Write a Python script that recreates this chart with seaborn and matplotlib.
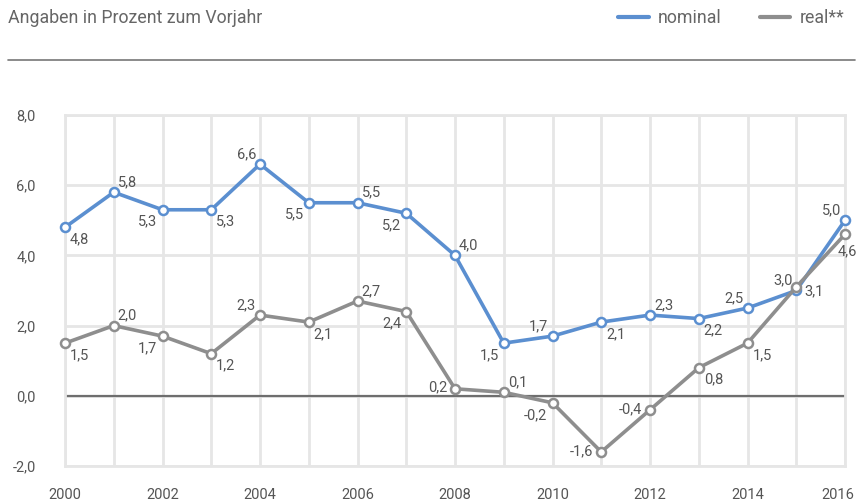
import numpy as np
import pandas as pd
import matplotlib
matplotlib.use("Agg")
import matplotlib.pyplot as plt
from matplotlib.lines import Line2D
from matplotlib.ticker import MultipleLocator, FuncFormatter
import seaborn as sns

# data
years = list(range(2000, 2017))
nominal = [4.8, 5.8, 5.3, 5.3, 6.6, 5.5, 5.5, 5.2, 4.0, 1.5, 1.7, 2.1, 2.3, 2.2, 2.5, 3.0, 5.0]
real = [1.5, 2.0, 1.7, 1.2, 2.3, 2.1, 2.7, 2.4, 0.2, 0.1, -0.2, -1.6, -0.4, 0.8, 1.5, 3.1, 4.6]

# where each value label sits relative to its point
nominal_pos = ['br', 'ar', 'bl', 'br', 'al', 'bl', 'ar', 'bl', 'ar', 'bl',
               'al', 'br', 'ar', 'br', 'al', 'al', 'al']
real_pos = ['br', 'ar', 'bl', 'br', 'al', 'br', 'ar', 'bl', 'l', 'ar',
            'bl', 'l', 'l', 'br', 'br', 'r', 'b']

df = pd.DataFrame({
    'Jahr': years * 2,
    'Wert': nominal + real,
    'Reihe': ['nominal'] * len(years) + ['real**'] * len(years),
})

blue = '#5b8fd0'
grey = '#8e8e8e'
txt = '#555555'

sns.set_style('white')
plt.rcParams['font.family'] = ['Roboto', 'DejaVu Sans']

fig = plt.figure(figsize=(8.59, 5.03), dpi=100)
ax = fig.add_axes([65 / 859, 1 - 466 / 503, 780 / 859, 351 / 503])

sns.lineplot(data=df, x='Jahr', y='Wert', hue='Reihe', palette=[blue, grey],
             marker='o', markersize=6.5, markerfacecolor='white',
             markeredgewidth=1.8, linewidth=2.6, ax=ax, legend=False,
             zorder=3)
for l in ax.lines:
    l.set_markeredgecolor(l.get_color())
    l.set_clip_on(False)

ax.set_xlim(2000, 2016)
ax.set_ylim(-2, 8)
ax.xaxis.set_major_locator(MultipleLocator(2))
ax.xaxis.set_minor_locator(MultipleLocator(1))
# the last year gets its own label further down, nudged inside the figure
ax.xaxis.set_major_formatter(FuncFormatter(lambda v, p: '' if v >= years[-1] else f"{v:.0f}"))
ax.yaxis.set_major_locator(MultipleLocator(2))
ax.yaxis.set_major_formatter(FuncFormatter(lambda v, p: f"{v:.1f}".replace('.', ',')))
ax.grid(True, which='both', color='#e6e6e6', linewidth=2, zorder=0)
for s in ax.spines.values():
    s.set_color('#e6e6e6')
    s.set_linewidth(2)
ax.axhline(0, color='#6e6e6e', linewidth=1.6, zorder=2)
ax.tick_params(axis='y', length=0, pad=21, labelsize=10.5, labelcolor=txt)
ax.tick_params(axis='x', which='both', length=0, pad=16, labelsize=10.5, labelcolor=txt)
ax.set_xlabel('')
ax.set_ylabel('')
ax.annotate(str(years[-1]), (years[-1], 0), xycoords=ax.get_xaxis_transform(),
            xytext=(-5, -16), textcoords='offset points', ha='center', va='top',
            fontsize=10.5, color=txt, annotation_clip=False)

offsets = {
    'ar': (4, 10, 'left'), 'br': (5, -12, 'left'),
    'al': (-4, 10, 'right'), 'bl': (-5, -12, 'right'),
    'l': (-8, 1, 'right'), 'r': (8, -4, 'left'), 'b': (2, -17, 'center'),
}
for vals, pos in [(nominal, nominal_pos), (real, real_pos)]:
    for x, y, p in zip(years, vals, pos):
        dx, dy, ha = offsets[p]
        ax.annotate(f"{y:.1f}".replace('.', ','), (x, y), xytext=(dx, dy),
                    textcoords='offset pixels', ha=ha, va='center',
                    fontsize=10.5, color=txt, zorder=4)

# header
fig.text(8 / 859, 1 - 18 / 503, 'Angaben in Prozent zum Vorjahr', fontsize=12.8,
         color='#666666', ha='left', va='center')
fig.add_artist(Line2D([8 / 859, 855 / 859], [1 - 60 / 503] * 2,
                      transform=fig.transFigure, color='#777777', linewidth=1.2))
handles = [Line2D([], [], color=blue, linewidth=3), Line2D([], [], color=grey, linewidth=3)]
fig.legend(handles, ['nominal', 'real**'], loc='center right', ncol=2,
           bbox_to_anchor=(844 / 859, 1 - 18 / 503), frameon=False, fontsize=12.8,
           labelcolor='#666666', handlelength=1.7, handletextpad=0.5,
           columnspacing=2.2, borderaxespad=0, borderpad=0)

fig.savefig('out.png', dpi=100)
